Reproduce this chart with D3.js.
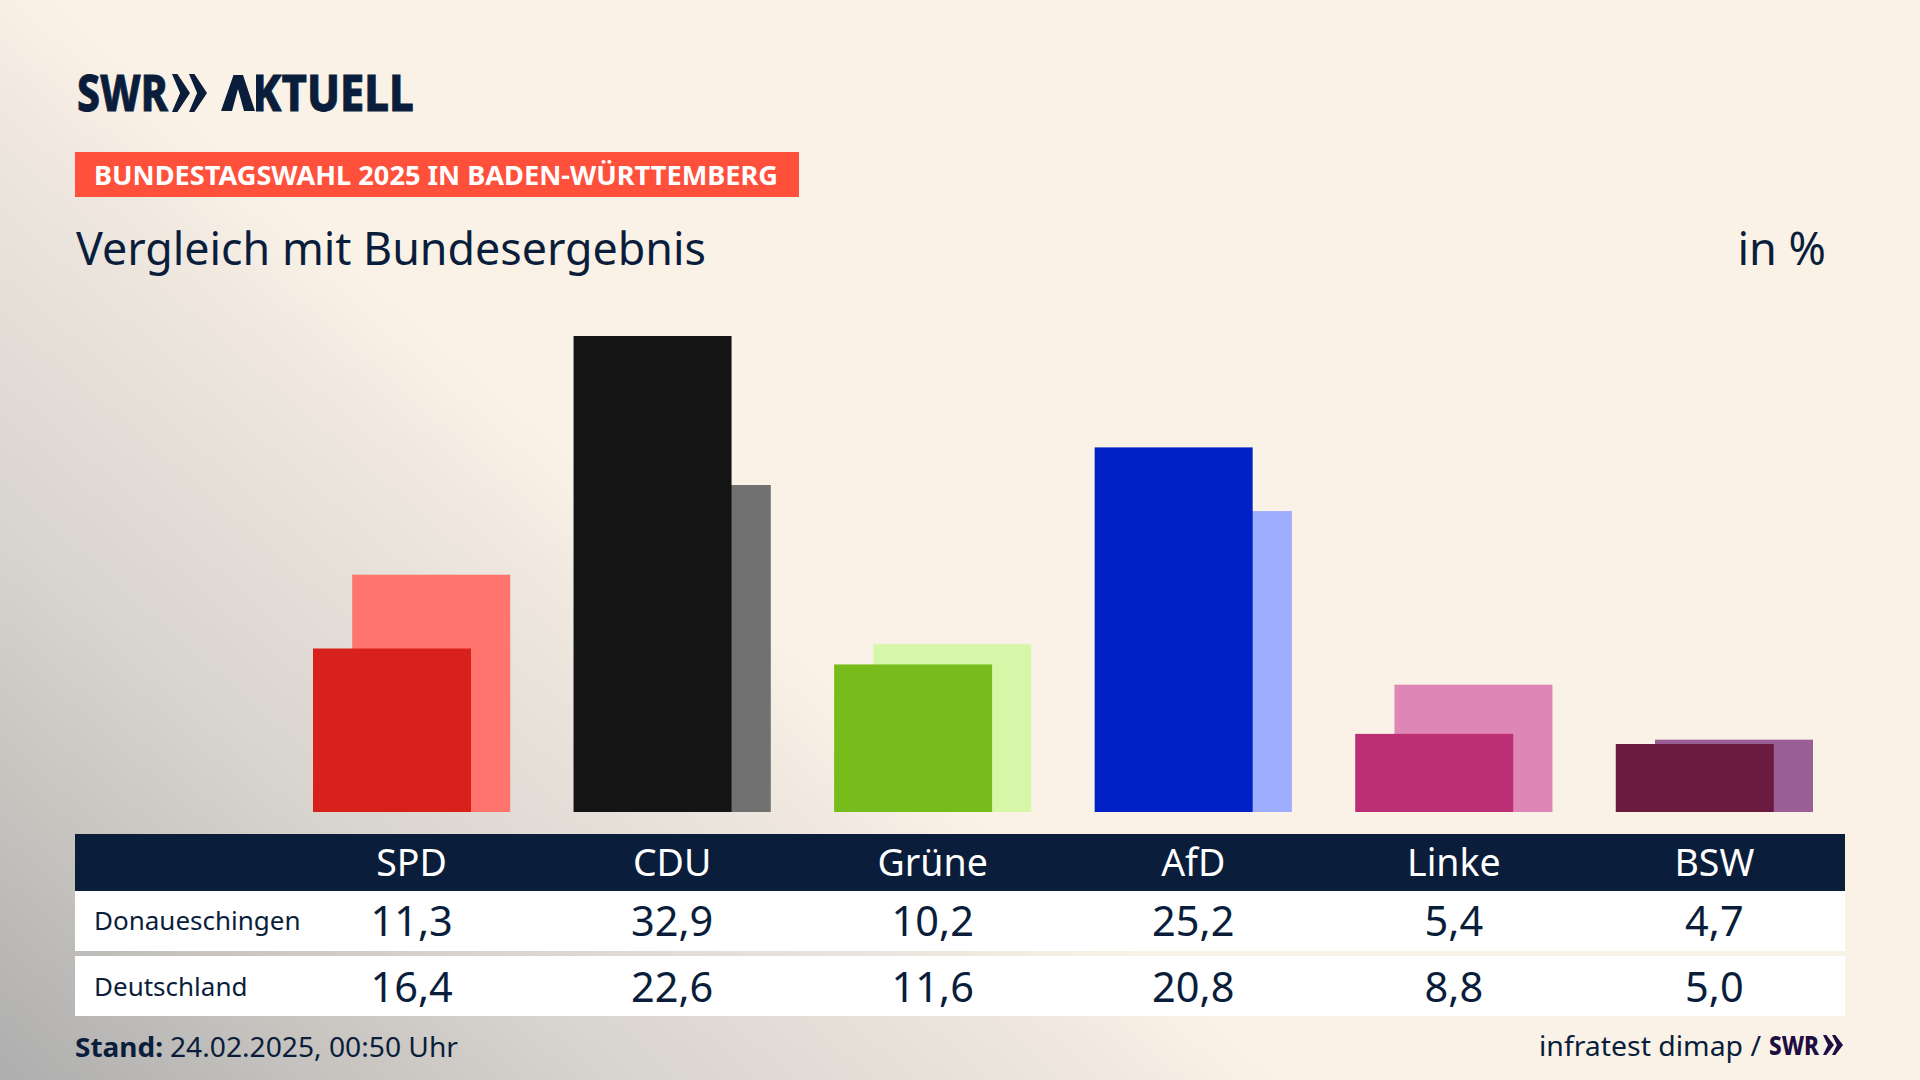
<!DOCTYPE html>
<html>
<head>
<meta charset="utf-8">
<script src="https://cdn.jsdelivr.net/npm/d3@7"></script>
<style>
  html, body { margin: 0; padding: 0; background: #fbf2e7; }
  svg { display: block; }
  text { font-family: "Noto Sans", sans-serif; }
</style>
</head>
<body>
<svg id="chart" width="1920" height="1080"></svg>
<script>
  var parties = ["SPD", "CDU", "Grüne", "AfD", "Linke", "BSW"];
  var localValues = [11.3, 32.9, 10.2, 25.2, 5.4, 4.7];
  var nationalValues = [16.4, 22.6, 11.6, 20.8, 8.8, 5.0];
  var localColors = ["#d8201c", "#141414", "#78bc1b", "#0120c6", "#bb2f74", "#6b1a40"];
  var nationalColors = ["#ff746d", "#727171", "#d6f7a8", "#9fadff", "#de86b6", "#9b5f97"];
  var rowLabels = ["Donaueschingen", "Deutschland"];

  var navy = "#0a1e3c";
  var barW = 158;
  var fmt = function(v) { return v.toFixed(1).replace(".", ","); };

  var svg = d3.select("#chart");
  var defs = svg.append("defs");

  // background, grey fades out diagonally from the lower left corner
  var grad = defs.append("linearGradient")
    .attr("id", "bg")
    .attr("gradientUnits", "userSpaceOnUse")
    .attr("x1", 0).attr("y1", 1080).attr("x2", 560).attr("y2", 444);
  [[0, "#aeaeae"], [0.27, "#c7c4c0"], [0.49, "#d8d4ce"], [0.72, "#e6e0d9"], [0.88, "#f1e9e0"], [1, "#fbf2e7"]].forEach(function(s) {
    grad.append("stop").attr("offset", s[0]).attr("stop-color", s[1]);
  });
  svg.append("rect").attr("width", 1920).attr("height", 1080).attr("fill", "url(#bg)");

  var x = d3.scaleBand().domain(parties).range([313, 1813]).paddingInner(0.243).paddingOuter(0);
  var y = d3.scaleLinear().domain([0, 32.9]).range([812, 336]);

  // squeezes a text to the width it has in the picture
  function label(parent, str, px, py, size, opts) {
    opts = opts || {};
    var t = parent.append("text")
      .attr("x", px).attr("y", py)
      .attr("font-size", size)
      .attr("font-weight", opts.weight || 400)
      .attr("fill", opts.fill || navy)
      .attr("text-anchor", opts.anchor || "start")
      .text(str);
    if (opts.width) t.attr("textLength", opts.width).attr("lengthAdjust", "spacingAndGlyphs");
    return t;
  }

  function chevrons(parent, x0, top, h, w, step) {
    var mid = h / 2;
    [0, step].forEach(function(dx) {
      var p = d3.path();
      p.moveTo(x0 + dx, top);
      p.lineTo(x0 + dx + w * 0.3, top);
      p.lineTo(x0 + dx + w, top + mid);
      p.lineTo(x0 + dx + w * 0.3, top + h);
      p.lineTo(x0 + dx, top + h);
      p.lineTo(x0 + dx + w * 0.45, top + mid);
      p.closePath();
      parent.append("path").attr("d", p.toString()).attr("fill", parent.attr("data-fill"));
    });
  }

  // logo, the A has no crossbar: its glyph is clipped off and drawn by hand
  defs.append("clipPath").attr("id", "noA").append("rect")
    .attr("x", 256).attr("y", 60).attr("width", 180).attr("height", 70);
  var logo = svg.append("g").attr("data-fill", navy);
  label(logo, "SWR", 77, 111, 50, { weight: 800, width: 91 }).attr("stroke", navy).attr("stroke-width", 0.8);
  chevrons(logo, 172, 74, 38, 18, 17);
  label(logo, "AKTUELL", 221, 111, 50, { weight: 800, width: 193 })
    .attr("stroke", navy).attr("stroke-width", 0.8)
    .attr("clip-path", "url(#noA)");
  var lambda = d3.path();
  lambda.moveTo(221, 111);
  lambda.lineTo(233.5, 75);
  lambda.lineTo(243, 75);
  lambda.lineTo(255, 111);
  lambda.lineTo(244, 111);
  lambda.lineTo(238, 89);
  lambda.lineTo(232, 111);
  lambda.closePath();
  logo.append("path").attr("d", lambda.toString()).attr("fill", navy);

  // heading
  svg.append("rect").attr("x", 75).attr("y", 152).attr("width", 724).attr("height", 45).attr("fill", "#ff503c");
  label(svg, "BUNDESTAGSWAHL 2025 IN BADEN-WÜRTTEMBERG", 94, 185, 26, { weight: 700, fill: "#fff", width: 684 });
  label(svg, "Vergleich mit Bundesergebnis", 76, 265, 45, { width: 630 });
  label(svg, "in %", 1826, 265, 45, { anchor: "end" });

  // bars, national result behind, local result in front
  svg.append("g").selectAll("rect").data(nationalValues).join("rect")
    .attr("x", function(d, i) { return x(parties[i]) + x.bandwidth() - barW; })
    .attr("y", function(d) { return y(d); })
    .attr("width", barW)
    .attr("height", function(d) { return y(0) - y(d); })
    .attr("fill", function(d, i) { return nationalColors[i]; });

  svg.append("g").selectAll("rect").data(localValues).join("rect")
    .attr("x", function(d, i) { return x(parties[i]); })
    .attr("y", function(d) { return y(d); })
    .attr("width", barW)
    .attr("height", function(d) { return y(0) - y(d); })
    .attr("fill", function(d, i) { return localColors[i]; });

  // table
  svg.append("rect").attr("x", 75).attr("y", 834).attr("width", 1770).attr("height", 57).attr("fill", navy);
  svg.append("rect").attr("x", 75).attr("y", 891).attr("width", 1770).attr("height", 60).attr("fill", "#fff");
  svg.append("rect").attr("x", 75).attr("y", 956).attr("width", 1770).attr("height", 60).attr("fill", "#fff");

  var center = function(p) { return x(p) + x.bandwidth() / 2; };

  svg.append("g").selectAll("text").data(parties).join("text")
    .attr("x", center).attr("y", 876)
    .attr("text-anchor", "middle").attr("font-size", 37.5).attr("fill", "#fff")
    .text(function(d) { return d; });

  [localValues, nationalValues].forEach(function(vals, r) {
    var base = r === 0 ? 936 : 1002;
    label(svg, rowLabels[r], 94, base - 6, 26);
    svg.append("g").selectAll("text").data(vals).join("text")
      .attr("x", function(d, i) { return center(parties[i]); })
      .attr("y", base)
      .attr("text-anchor", "middle").attr("font-size", 41.5).attr("fill", navy)
      .text(fmt);
  });

  // footer
  label(svg, "Stand:", 75, 1057, 27, { weight: 700, width: 88 });
  label(svg, "24.02.2025, 00:50 Uhr", 170, 1057, 27, { width: 288 });
  label(svg, "infratest dimap /", 1539, 1056, 27, { width: 222 });
  var src = svg.append("g").attr("data-fill", "#200e42");
  label(src, "SWR", 1769, 1055, 26, { weight: 800, fill: "#200e42", width: 50 });
  chevrons(src, 1823, 1035, 20, 11, 9);
</script>
</body>
</html>
